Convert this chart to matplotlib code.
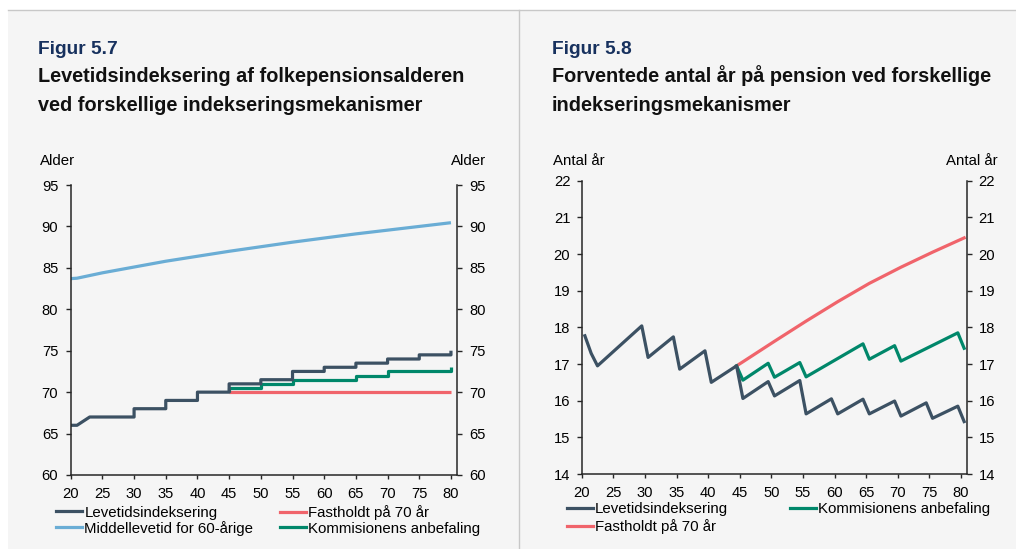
import matplotlib
matplotlib.use("Agg")
import matplotlib.pyplot as plt
from matplotlib.lines import Line2D
from matplotlib.patches import Rectangle

plt.rcParams['font.family'] = ['Liberation Sans', 'DejaVu Sans']

# ---------------- DATA ----------------
# Figur 5.7 (folkepensionsalder)
lev_years = [20, 21, 23, 30, 30, 35, 35, 40, 40, 45, 45, 50, 50, 55, 55, 60, 60, 65, 65, 70, 70, 75, 75, 80, 80]
lev_age = [66, 66, 67, 67, 68, 68, 69, 69, 70, 70, 71, 71, 71.5, 71.5, 72.5, 72.5, 73, 73, 73.5, 73.5, 74, 74, 74.5, 74.5, 75]
mid_years = [20, 21, 25, 30, 35, 40, 45, 50, 55, 60, 65, 70, 75, 80]
mid_age = [83.7, 83.75, 84.4, 85.1, 85.8, 86.4, 87.0, 87.55, 88.1, 88.6, 89.1, 89.55, 90.0, 90.45]
fast_years = [45, 80]
fast_age = [70, 70]
kom_years = [45, 45, 50, 50, 55, 55, 65, 65, 70, 70, 80, 80]
kom_age = [70, 70.5, 70.5, 71, 71, 71.5, 71.5, 72, 72, 72.5, 72.5, 73]

# Figur 5.8 (forventede antal år på pension)
lev2_years = [20, 21, 22, 29, 30, 34, 35, 39, 40, 44, 45, 49, 50, 54, 55, 59, 60, 64, 65, 69, 70, 74, 75, 79, 80]
lev2_vals = [17.77, 17.29, 16.95, 18.04, 17.18, 17.74, 16.86, 17.36, 16.5, 16.95, 16.06, 16.52, 16.13,
             16.55, 15.64, 16.05, 15.64, 16.04, 15.64, 15.99, 15.58, 15.94, 15.52, 15.85, 15.43]
fast2_years = [44, 45, 50, 55, 60, 65, 70, 75, 80]
fast2_vals = [16.95, 17.06, 17.62, 18.17, 18.7, 19.2, 19.64, 20.05, 20.44]
kom2_years = [44, 45, 49, 50, 54, 55, 64, 65, 69, 70, 79, 80]
kom2_vals = [16.95, 16.56, 17.02, 16.64, 17.04, 16.65, 17.55, 17.13, 17.5, 17.08, 17.85, 17.43]

xtick_years = [20, 25, 30, 35, 40, 45, 50, 55, 60, 65, 70, 75, 80]
left_yticks = [60, 65, 70, 75, 80, 85, 90, 95]
right_yticks = [14, 15, 16, 17, 18, 19, 20, 21, 22]

lbl_lev = "Levetidsindeksering"
lbl_mid = "Middellevetid for 60-årige"
lbl_fast = "Fastholdt på 70 år"
lbl_kom = "Kommisionens anbefaling"

# ---------------- STYLE ----------------
C_DARK = "#3c5163"
C_RED = "#f0646b"
C_BLUE = "#6aadd5"
C_GREEN = "#00876a"
C_NAVY = "#17315e"
BG = "#f5f5f5"
LW = 2.3

W, H = 1016, 549
fig = plt.figure(figsize=(W / 100, H / 100), dpi=100, facecolor="white")


def fx(px):
    return px / W


def fy(py):
    return 1 - py / H


# background panel
bg = Rectangle((fx(8), 0), 1 - fx(8), fy(10), transform=fig.transFigure,
               facecolor=BG, edgecolor="none", zorder=-10)
fig.add_artist(bg)
fig.add_artist(Line2D([fx(8), 1], [fy(10), fy(10)], transform=fig.transFigure, color="#c8c8c8", lw=1, zorder=-9))
fig.add_artist(Line2D([fx(519), fx(519)], [0, fy(10)], transform=fig.transFigure, color="#c8c8c8", lw=1, zorder=-9))

TICK_FS = 10.6
LEG_FS = 10.8


def style_axes(ax, ypad, xpad):
    ax.set_facecolor("none")
    ax.spines["top"].set_visible(False)
    for s in ["left", "right", "bottom"]:
        ax.spines[s].set_color("#262626")
        ax.spines[s].set_linewidth(1.1)
    ax.tick_params(axis="y", which="both", left=True, right=True, labelleft=True, labelright=True,
                   direction="out", length=3.4, width=1.0, pad=ypad, labelsize=TICK_FS, colors="#262626")
    ax.tick_params(axis="x", direction="out", length=2.8, width=1.0, pad=xpad, labelsize=TICK_FS,
                   colors="#262626")
    for lab in ax.get_xticklabels() + ax.get_yticklabels():
        lab.set_color("black")


# ---------------- LEFT CHART ----------------
axL = fig.add_axes([fx(70.7), fy(475), fx(457.3) - fx(70.7), fy(185) - fy(475)])
axL.plot(mid_years, mid_age, color=C_BLUE, lw=LW, solid_capstyle="butt")
axL.plot(fast_years, fast_age, color=C_RED, lw=LW, solid_capstyle="butt")
axL.plot(kom_years, kom_age, color=C_GREEN, lw=LW, solid_capstyle="butt")
axL.plot(lev_years, lev_age, color=C_DARK, lw=LW, solid_capstyle="butt")
axL.set_xlim(20, 81)
axL.set_ylim(60, 95)
axL.set_xticks(xtick_years)
axL.set_xticklabels([str(v) for v in xtick_years])
axL.set_yticks(left_yticks)
style_axes(axL, ypad=5.5, xpad=5.6)

# ---------------- RIGHT CHART ----------------
axR = fig.add_axes([fx(581.7), fy(474), fx(967.3) - fx(581.7), fy(180.7) - fy(474)])
axR.plot(fast2_years, fast2_vals, color=C_RED, lw=LW)
axR.plot(kom2_years, kom2_vals, color=C_GREEN, lw=LW)
axR.plot(lev2_years, lev2_vals, color=C_DARK, lw=LW)
# category axis: each year occupies one slot, ticks between slots
axR.set_xlim(lev2_years[0] - 0.5, lev2_years[-1] + 0.5)
axR.set_xticks([v - 0.5 for v in xtick_years])
axR.set_xticklabels([str(v) for v in xtick_years])
axR.set_ylim(14, 22)
axR.set_yticks(right_yticks)
style_axes(axR, ypad=4.8, xpad=6.0)

# ---------------- TEXTS ----------------
fig.text(fx(38.5), fy(53.5), "Figur 5.7", color=C_NAVY, fontsize=13.8, fontweight="bold", va="baseline")
fig.text(fx(38.5), fy(82), "Levetidsindeksering af folkepensionsalderen", color="#111111",
         fontsize=14.3, fontweight="bold", va="baseline")
fig.text(fx(38.5), fy(111), "ved forskellige indekseringsmekanismer", color="#111111",
         fontsize=14.3, fontweight="bold", va="baseline")

fig.text(fx(551.5), fy(53.5), "Figur 5.8", color=C_NAVY, fontsize=13.8, fontweight="bold", va="baseline")
fig.text(fx(551.5), fy(82), "Forventede antal år på pension ved forskellige", color="#111111",
         fontsize=14.3, fontweight="bold", va="baseline")
fig.text(fx(551.5), fy(111), "indekseringsmekanismer", color="#111111",
         fontsize=14.3, fontweight="bold", va="baseline")

fig.text(fx(40), fy(165), "Alder", fontsize=LEG_FS, va="baseline", ha="left")
fig.text(fx(486), fy(165), "Alder", fontsize=LEG_FS, va="baseline", ha="right")
fig.text(fx(553), fy(165), "Antal år", fontsize=LEG_FS, va="baseline", ha="left")
fig.text(fx(998), fy(165), "Antal år", fontsize=LEG_FS, va="baseline", ha="right")


# ---------------- LEGENDS ----------------
def add_legend(handles, labels, x_px, y_px, spacing):
    fig.legend(handles, labels, loc="upper left", bbox_to_anchor=(fx(x_px), fy(y_px)),
               bbox_transform=fig.transFigure, frameon=False, fontsize=LEG_FS,
               handlelength=1.75, handletextpad=0.15, labelspacing=spacing,
               borderpad=0, borderaxespad=0)


def h(c):
    return Line2D([], [], color=c, lw=LW)


add_legend([h(C_DARK), h(C_BLUE)], [lbl_lev, lbl_mid], 56, 505.5, 0.08)
add_legend([h(C_RED), h(C_GREEN)], [lbl_fast, lbl_kom], 279.5, 505.5, 0.08)
add_legend([h(C_DARK), h(C_RED)], [lbl_lev, lbl_fast], 566.5, 502, 0.2)
add_legend([h(C_GREEN)], [lbl_kom], 790, 502, 0.2)

fig.savefig("out.png", dpi=100, facecolor="white")
